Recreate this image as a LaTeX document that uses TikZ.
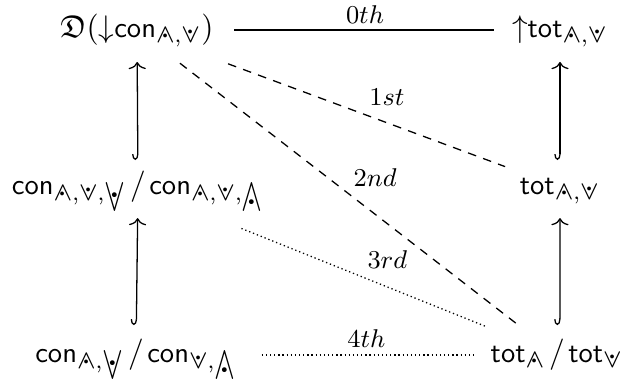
\documentclass[tikz,border=0pt]{standalone}
\usepackage{amsmath,amssymb,graphicx}
\usepackage{fontspec}
\usetikzlibrary{arrows.meta}
\makeatletter
\newcommand\dw{\mathpalette\dw@aux{}}
\newcommand\dw@aux[2]{\scalebox{1.15}{\ooalign{$\m@th#1\wedge$\cr\hfil\lower.06em\hbox{\scalebox{1.3}{$\m@th#1\cdot$}}\hfil\cr}}}
\newcommand\dv{\mathpalette\dv@aux{}}
\newcommand\dv@aux[2]{\scalebox{1.15}{\ooalign{$\m@th#1\vee$\cr\hfil\raise.07em\hbox{\scalebox{1.3}{$\m@th#1\cdot$}}\hfil\cr}}}
\makeatother
\newcommand\Bw{\hbox{\lower3.3pt\hbox{\ooalign{\scalebox{1.0}[1.5]{$\wedge$}\cr\hfil\lower.12em\hbox{\scalebox{1.45}{$\cdot$}}\hfil\cr}}}}
\newcommand\Bv{\hbox{\lower3.3pt\hbox{\ooalign{\scalebox{1.0}[1.5]{$\vee$}\cr\hfil\raise.12em\hbox{\scalebox{1.45}{$\cdot$}}\hfil\cr}}}}
\newcommand\Kon{\textsf{\fontsize{10}{12}\selectfont con}}
\newcommand\Tot{\textsf{\fontsize{10}{12}\selectfont tot}}
\newcommand\sfsl{\mkern2mu/\mkern2mu}
\begin{document}
\begin{tikzpicture}[x=0.35pt,y=-0.35pt,
  font=\fontsize{11}{13}\selectfont,
  obj/.style={inner sep=0pt, text height=8pt, text depth=2.5pt},
  lab/.style={font=\fontsize{9.5}{11}\selectfont, inner sep=0pt},
  incl/.style={{Hooks[right,length=2pt,width=4pt]}-{To[length=2.5pt,width=6pt]}, line width=0.45pt},
  rel/.style={line width=0.45pt},
  dsh/.style={line width=0.45pt, dash pattern=on 3pt off 2.6pt},
  dtt/.style={line width=0.45pt, dash pattern=on 0.45pt off 1pt}]
\useasboundingbox (0,0) rectangle (623,383);
\node[obj] (tl) at (137,30) {$\mathfrak{D}(\mathord{\downarrow}\Kon_{\dw,\dv})$};
\node[obj] (tr) at (560,30) {$\mathord{\uparrow}\Tot_{\dw,\dv}$};
\node[obj] (ml) at (138,187) {$\Kon_{\dw,\dv,\Bv}\sfsl\Kon_{\dw,\dv,\Bw}$};
\node[obj] (mr) at (560,187) {$\Tot_{\dw,\dv}$};
\node[obj] (bl) at (136,355) {$\Kon_{\dw,\Bv}\sfsl\Kon_{\dv,\Bw}$};
\node[obj] (br) at (557,355) {$\Tot_{\dw}\sfsl\Tot_{\dv}$};
% inclusions
\draw[incl, shorten <=9.5pt, shorten >=11.2pt] (ml.center) -- (tl.center);
\draw[incl, shorten <=10.5pt, shorten >=10.9pt] (bl.center) -- (ml.center);
\draw[incl, shorten <=9.5pt, shorten >=11.2pt] (mr.center) -- (tr.center);
\draw[incl, shorten <=10.5pt, shorten >=10.9pt] ([xshift=1pt]br.center) -- (mr.center);
% relations
\draw[rel, shorten <=34pt, shorten >=23pt] (tl.center) -- node[lab, pos=0.539, yshift=5.3pt] {$0th$} (tr.center);
\draw[dsh, shorten <=34pt, shorten >=20.5pt] (tl.center) -- node[lab, pos=0.591, yshift=9pt] {$1st$} (mr.center);
\draw[dsh, shorten <=19pt, shorten >=16.3pt] (tl.center) -- node[lab, pos=0.567, yshift=13pt] {$2nd$} (br.center);
\draw[dtt, shorten <=39pt, shorten >=27pt] (ml.center) -- node[lab, pos=0.595, yshift=9.5pt] {$3rd$} (br.center);
\draw[dtt, shorten <=44pt, shorten >=28.7pt] (bl.center) -- node[lab, pos=0.547, yshift=5.8pt] {$4th$} (br.center);
\end{tikzpicture}
\end{document}
